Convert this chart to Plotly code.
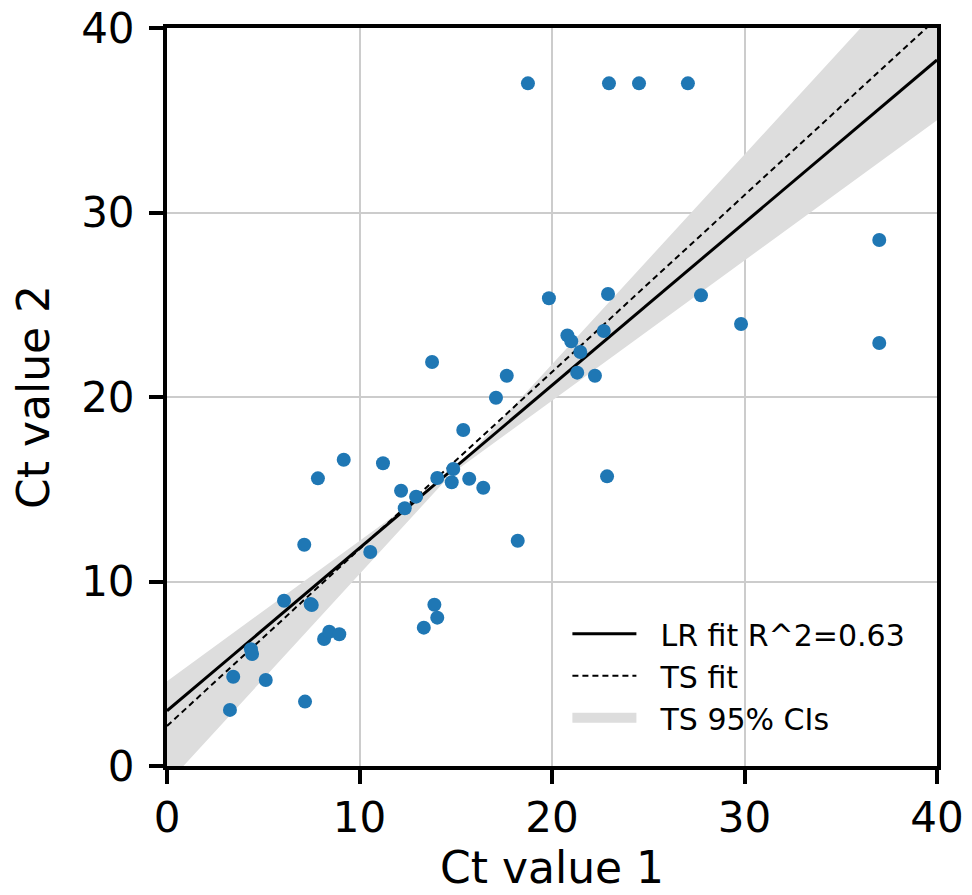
import plotly.graph_objects as go

# Scatter data (Ct value 1 vs Ct value 2)
ct1 = [3.27, 3.44, 4.36, 4.42, 5.13, 6.08, 7.17, 7.13, 7.46, 7.52,
       8.16, 8.43, 8.95, 7.84, 9.18, 10.56, 11.22, 12.16, 12.94, 12.35,
       14.04, 14.79, 14.87, 13.89, 14.04, 13.34, 13.77, 17.65, 17.09, 15.39,
       15.70, 16.43, 18.22, 19.84, 20.80, 21.00, 22.69, 21.47, 21.31, 22.23,
       22.86, 22.91, 27.74, 29.82, 37.0, 37.0, 18.75, 22.96, 24.52, 27.06]
ct2 = [3.04, 4.84, 6.33, 6.07, 4.66, 8.96, 3.49, 11.99, 8.78, 8.73,
       6.88, 7.28, 7.14, 15.59, 16.60, 11.60, 16.41, 14.92, 14.60, 13.97,
       15.61, 15.38, 16.10, 8.74, 8.04, 7.50, 21.90, 21.15, 19.96, 18.21,
       15.57, 15.08, 12.21, 25.35, 23.34, 23.02, 23.58, 22.44, 21.32, 21.15,
       15.70, 25.58, 25.51, 23.96, 28.51, 22.93, 37.0, 37.0, 37.0, 37.0]

# Fit parameters
lr_intercept, lr_slope = 2.99, 0.882
ts_intercept, ts_slope = 2.17, 0.959
ci_hi_intercept, ci_hi_slope = 4.60, 0.760
ci_lo_intercept, ci_lo_slope = -0.97, 1.137

x_range = [0, 40]
ticks = [0, 10, 20, 30, 40]
legend_names = ["LR fit R^2=0.63", "TS fit", "TS 95% CIs"]

FONT = "DejaVu Sans"
BAND = "rgb(221,221,221)"
PAD = "\u00a0\u00a0"

def line(b, m, xs):
    return [b + m * x for x in xs]

fig = go.Figure()

# CI band (polygon between the two CI lines)
band_x = x_range + x_range[::-1]
band_y = line(ci_hi_intercept, ci_hi_slope, x_range) + line(ci_lo_intercept, ci_lo_slope, x_range[::-1])
fig.add_trace(go.Scatter(
    x=band_x, y=band_y, fill="toself", mode="lines",
    line=dict(width=0, color="rgba(0,0,0,0)"),
    fillcolor=BAND, showlegend=False, legendgroup="ci",
    hoverinfo="skip"))
# legend entry for the band
fig.add_trace(go.Scatter(
    x=[None], y=[None], mode="lines", line=dict(color=BAND, width=22),
    name=PAD + legend_names[2], legendrank=3, legendgroup="ci"))

fig.add_trace(go.Scatter(
    x=x_range, y=line(lr_intercept, lr_slope, x_range), mode="lines",
    line=dict(color="black", width=3), name=PAD + legend_names[0], legendrank=1))

fig.add_trace(go.Scatter(
    x=x_range, y=line(ts_intercept, ts_slope, x_range), mode="lines",
    line=dict(color="black", width=2, dash="6px,4px"), name=PAD + legend_names[1], legendrank=2))

fig.add_trace(go.Scatter(
    x=ct1, y=ct2, mode="markers",
    marker=dict(color="#1f77b4", size=14, line=dict(width=0)),
    showlegend=False))

axis_common = dict(
    range=x_range, tickvals=ticks, showgrid=True, gridcolor="#cccccc", gridwidth=2,
    showline=True, linecolor="black", linewidth=4, mirror=True,
    ticks="outside", ticklen=14, tickwidth=4, tickcolor="black",
    tickfont=dict(family=FONT, size=42, color="black"),
    zeroline=False, automargin=True,
)

fig.update_layout(
    width=972, height=895,
    margin=dict(l=167, r=35, t=28, b=129, autoexpand=False),
    paper_bgcolor="white", plot_bgcolor="white",
    font=dict(family=FONT, color="black"),
    xaxis=dict(**axis_common, ticklabelstandoff=-2,
               title=dict(text="Ct value 1", font=dict(family=FONT, size=44), standoff=4)),
    yaxis=dict(**axis_common, ticklabelstandoff=6,
               title=dict(text="Ct value 2", font=dict(family=FONT, size=44), standoff=19)),
    legend=dict(x=0.52, y=0.03, xanchor="left", yanchor="bottom",
                bgcolor="rgba(255,255,255,0)", font=dict(family=FONT, size=30),
                itemwidth=64, tracegroupgap=0),
    showlegend=True,
)

fig.write_html("out.html", config={"displayModeBar": False},
               post_script="document.body.style.margin='0px';")
